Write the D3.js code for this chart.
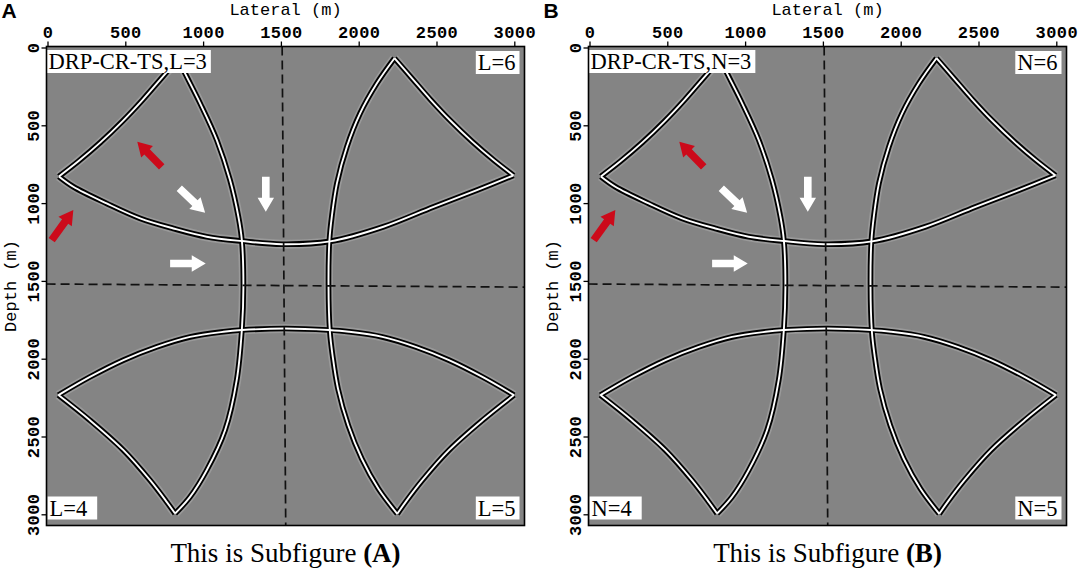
<!DOCTYPE html>
<html>
<head>
<meta charset="utf-8">
<script src="https://cdn.jsdelivr.net/npm/d3@7"></script>
<style>
  html, body { margin: 0; padding: 0; background: #fff; }
  svg { display: block; }
  .tick text { font-family: "Liberation Mono", "DejaVu Sans Mono", monospace; font-size: 17px; font-weight: bold; fill: #000; }
  .axis-title { font-family: "Liberation Mono", "DejaVu Sans Mono", monospace; font-size: 17px; fill: #000; }
  .panel-letter { font-family: "Liberation Sans", Arial, sans-serif; font-weight: bold; font-size: 21px; }
  .box-label { font-family: "Liberation Serif", "Times New Roman", serif; font-size: 22.5px; fill: #000; }
  .caption { font-family: "Liberation Serif", "Times New Roman", serif; font-size: 27px; fill: #000; }
</style>
</head>
<body>
<div id="chart"></div>
<script>
// Axis ticks (m)
const xTicks = [0, 500, 1000, 1500, 2000, 2500, 3000];
const yTicks = [0, 500, 1000, 1500, 2000, 2500, 3000];

const arcLeft = [[839, 74], [884, 166], [981, 359], [1088, 595], [1173, 852], [1227, 1088], [1249, 1238],
  [1259, 1538], [1249, 1816], [1216, 2138], [1141, 2460], [1023, 2717], [916, 2888], [820, 2995]];
const arcRight = [[2230, 69], [2117, 230], [2009, 423], [1924, 638], [1860, 873], [1827, 1088], [1812, 1238],
  [1806, 1527], [1815, 1828], [1832, 1978], [1867, 2193], [1933, 2428], [2020, 2643], [2127, 2836], [2248, 2997]];
const arcTop = [[73, 829], [166, 895], [380, 1002], [595, 1098], [809, 1163], [1023, 1216], [1249, 1244],
  [1506, 1264], [1816, 1246], [2159, 1152], [2481, 1024], [2760, 916], [2995, 822]];
const arcBottom = [[70, 2234], [273, 2117], [488, 2009], [702, 1924], [916, 1860], [1131, 1827], [1249, 1816],
  [1527, 1806], [1806, 1816], [1937, 1827], [2152, 1860], [2366, 1924], [2580, 2009], [2795, 2117], [2998, 2234]];
const edgeTL = [[73, 829], [200, 730], [340, 610], [480, 476], [610, 338], [730, 200], [839, 74]];
const edgeTR = [[2230, 69], [2340, 195], [2460, 333], [2590, 471], [2730, 605], [2870, 725], [2995, 822]];
const edgeBL = [[70, 2234], [273, 2396], [488, 2588], [659, 2781], [766, 2920], [820, 2995]];
const edgeBR = [[2998, 2234], [2795, 2396], [2580, 2588], [2409, 2781], [2302, 2920], [2248, 2997]];

// Dashed reference lines, endpoints [lateral, depth]
const dashVertical = [[1508, -6], [1531, 3072]];
const dashHorizontal = [[-6, 1520], [3066, 1540]];

// Arrows: [tailX, tailY, tipX, tipY] in metres
const redArrows = [[734, 767, 577, 606], [27, 1238, 166, 1045]];
const whiteArrows = [[847, 905, 1013, 1062], [1403, 831, 1403, 1056], [788, 1388, 1017, 1388]];

// Panels
const panelLetters = ["A", "B"];
const panelParams = ["L", "N"];
const cornerValues = [3, 6, 4, 5]; // top-left, top-right, bottom-left, bottom-right

const width = 1079, height = 568;
const svg = d3.select("#chart").append("svg").attr("width", width).attr("height", height);
svg.append("rect").attr("width", width).attr("height", height).attr("fill", "#fff");

const plotW = 478, plotH = 479, plotTop = 46.5;
const panelLeft = [46.5, 588.5];

panelLetters.forEach((letter, i) => drawPanel(i));

function drawPanel(i) {
  const ox = panelLeft[i];
  const g = svg.append("g");

  const x = d3.scaleLinear().domain([0, 3000]).range([ox + 1, ox + 467.8]);
  const y = d3.scaleLinear().domain([0, 3000]).range([plotTop + 1, plotTop + 467.8]);

  // seismic background
  g.append("rect")
    .attr("x", ox).attr("y", plotTop).attr("width", plotW).attr("height", plotH)
    .attr("fill", "#848484");

  const line = d3.line()
    .x((d) => x(d[0]))
    .y((d) => y(d[1]))
    .curve(d3.curveCatmullRom.alpha(0.5));

  const fronts = [arcLeft, arcRight, arcTop, arcBottom, edgeTL, edgeTR, edgeBL, edgeBR];

  // faint halo, then black/white doublet of each wavefront
  g.append("g").selectAll("path").data(fronts).join("path")
    .attr("d", line).attr("fill", "none")
    .attr("stroke", "#b0b0b0").attr("stroke-opacity", 0.5).attr("stroke-width", 9);
  g.append("g").selectAll("path").data(fronts).join("path")
    .attr("d", line).attr("fill", "none")
    .attr("stroke", "#000").attr("stroke-width", 5.6).attr("stroke-linejoin", "miter");
  g.append("g").selectAll("path").data(fronts).join("path")
    .attr("d", line).attr("fill", "none")
    .attr("stroke", "#fff").attr("stroke-width", 1.9).attr("stroke-linejoin", "miter");

  // dashed guide lines
  const straight = d3.line().x((d) => x(d[0])).y((d) => y(d[1]));
  g.append("g").selectAll("path").data([dashVertical, dashHorizontal]).join("path")
    .attr("d", straight).attr("fill", "none")
    .attr("stroke", "#111").attr("stroke-width", 1.7).attr("stroke-dasharray", "9,5");

  // arrows
  const arrowShape = (a) => {
    const p0 = [x(a[0]), y(a[1])], p1 = [x(a[2]), y(a[3])];
    const dx = p1[0] - p0[0], dy = p1[1] - p0[1];
    const len = Math.hypot(dx, dy);
    const ux = dx / len, uy = dy / len, nx = -uy, ny = ux;
    const sw = 3.8, hw = 8.2, hl = 14;
    const bx = p1[0] - ux * hl, by = p1[1] - uy * hl;
    const pts = [
      [p0[0] + nx * sw, p0[1] + ny * sw],
      [bx + nx * sw, by + ny * sw],
      [bx + nx * hw, by + ny * hw],
      p1,
      [bx - nx * hw, by - ny * hw],
      [bx - nx * sw, by - ny * sw],
      [p0[0] - nx * sw, p0[1] - ny * sw]
    ];
    return "M" + pts.map((p) => p.join(",")).join("L") + "Z";
  };
  g.append("g").selectAll("path").data(redArrows).join("path")
    .attr("d", arrowShape).attr("fill", "#cc0a1a");
  g.append("g").selectAll("path").data(whiteArrows).join("path")
    .attr("d", arrowShape).attr("fill", "#fff");

  // corner labels with white boxes
  const p = panelParams[i];
  const corners = [
    { text: `DRP-CR-TS,${p}=${cornerValues[0]}`, ax: "left", tx: ox + 2, ty: plotTop + 22.5 },
    { text: `${p}=${cornerValues[1]}`, ax: "right", tx: ox + plotW - 9, ty: plotTop + 23.5 },
    { text: `${p}=${cornerValues[2]}`, ax: "left", tx: ox + 3, ty: plotTop + 469 },
    { text: `${p}=${cornerValues[3]}`, ax: "right", tx: ox + plotW - 9, ty: plotTop + 469 }
  ];
  corners.forEach((c) => {
    const box = g.append("rect").attr("fill", "#fff");
    const t = g.append("text").attr("class", "box-label")
      .attr("x", c.tx).attr("y", c.ty)
      .attr("text-anchor", c.ax === "left" ? "start" : "end")
      .text(c.text);
    const bb = t.node().getBBox();
    const padL = 2;
    const padR = c.ax === "left" && c.text.length < 6 ? 10 : 4;
    box.attr("x", bb.x - padL).attr("y", c.ty - 19)
      .attr("width", bb.width + padL + padR).attr("height", 23);
  });

  // frame
  g.append("rect")
    .attr("x", ox).attr("y", plotTop).attr("width", plotW).attr("height", plotH)
    .attr("fill", "none").attr("stroke", "#000").attr("stroke-width", 1.6);

  // top axis
  const xAxisG = g.append("g").attr("transform", `translate(0,${plotTop})`)
    .call(d3.axisTop(x).tickValues(xTicks).tickSize(5).tickPadding(4).tickFormat(d3.format("d")));
  xAxisG.select(".domain").remove();
  xAxisG.selectAll(".tick line").attr("stroke-width", 1.3);
  xAxisG.selectAll(".tick text").attr("letter-spacing", "0.4px");

  // left axis with rotated labels
  const yAxisG = g.append("g").attr("transform", `translate(${ox},0)`)
    .call(d3.axisLeft(y).tickValues(yTicks).tickSize(5).tickFormat(d3.format("d")));
  yAxisG.select(".domain").remove();
  yAxisG.selectAll(".tick line").attr("stroke-width", 1.3);
  yAxisG.selectAll(".tick text")
    .attr("transform", "rotate(-90)")
    .attr("x", 0).attr("y", -8).attr("dy", 0)
    .attr("letter-spacing", "0.4px")
    .style("text-anchor", "middle");

  // axis titles
  g.append("text").attr("class", "axis-title")
    .attr("x", ox + plotW / 2).attr("y", 15)
    .attr("text-anchor", "middle").text("Lateral (m)");
  g.append("text").attr("class", "axis-title")
    .attr("transform", `translate(${ox - 31},${plotTop + plotH / 2}) rotate(-90)`)
    .attr("text-anchor", "middle").text("Depth (m)");

  // panel letter
  g.append("text").attr("class", "panel-letter")
    .attr("x", ox - 45).attr("y", 18).text(panelLetters[i]);

  // caption
  const cap = g.append("text").attr("class", "caption")
    .attr("x", ox + plotW / 2).attr("y", 562).attr("text-anchor", "middle");
  cap.append("tspan").text("This is Subfigure ");
  cap.append("tspan").attr("font-weight", "bold").text(`(${panelLetters[i]})`);
}
</script>
</body>
</html>
